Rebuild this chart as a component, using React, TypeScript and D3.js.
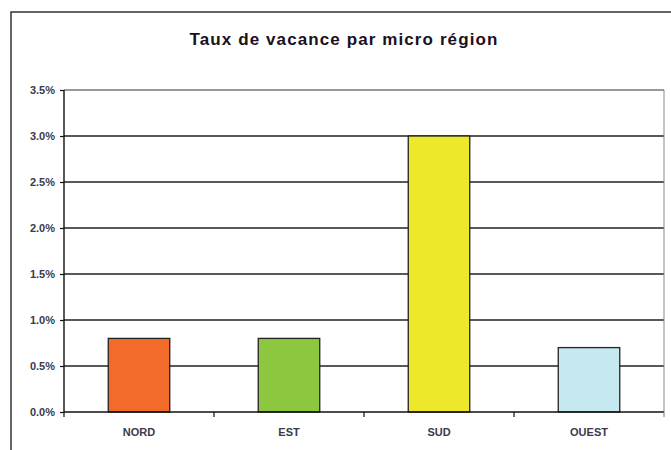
import React, { useEffect, useRef } from 'react';
import * as d3 from 'd3';

const regions = ['NORD', 'EST', 'SUD', 'OUEST'];
const tauxVacance = [0.008, 0.008, 0.03, 0.007];
const barColors = ['#f26b2b', '#8dc63f', '#eee82a', '#c6e8f0'];
const yTicks = [0, 0.005, 0.01, 0.015, 0.02, 0.025, 0.03, 0.035];
const title = 'Taux de vacance par micro région';

export default function App() {
    const svgRef = useRef<SVGSVGElement>(null);
    const width = 671,
        height = 450;
    const margin = { top: 90, right: 7, bottom: 38, left: 64 };

    useEffect(() => {
        const svg = d3.select(svgRef.current);
        svg.selectAll('*').remove();

        // outer chart frame
        svg.append('rect')
            .attr('x', 11)
            .attr('y', 12)
            .attr('width', width + 20)
            .attr('height', height + 20)
            .attr('fill', '#fff')
            .attr('stroke', '#333')
            .attr('stroke-width', 1.5);

        svg.append('text')
            .attr('x', 344)
            .attr('y', 45)
            .attr('text-anchor', 'middle')
            .attr('font-family', 'Liberation Sans, Arial, sans-serif')
            .attr('font-weight', 'bold')
            .attr('font-size', 17)
            .attr('letter-spacing', 1.1)
            .attr('fill', '#1a1020')
            .text(title);

        const g = svg.append('g').attr('transform', `translate(${margin.left}, ${margin.top})`);
        const w = width - margin.left - margin.right;
        const h = height - margin.top - margin.bottom;

        const x = d3.scaleBand().domain(regions).range([0, w]).paddingInner(0.59).paddingOuter(0.295);
        const y = d3.scaleLinear().domain([0, 0.035]).range([h, 0]);

        // gridlines
        g.selectAll('.grid')
            .data(yTicks.slice(1))
            .join('line')
            .attr('x1', 0)
            .attr('x2', w)
            .attr('y1', (d) => y(d))
            .attr('y2', (d) => y(d))
            .attr('stroke', (d) => (d === 0.035 ? '#777' : '#222'))
            .attr('stroke-width', 1.4);

        // right border of plot
        g.append('line')
            .attr('x1', w)
            .attr('x2', w)
            .attr('y1', 0)
            .attr('y2', h)
            .attr('stroke', '#888')
            .attr('stroke-width', 1);

        // bars
        g.selectAll('.bar')
            .data(regions)
            .join('rect')
            .attr('x', (d) => x(d) as number)
            .attr('y', (d, i) => y(tauxVacance[i]))
            .attr('width', x.bandwidth())
            .attr('height', (d, i) => h - y(tauxVacance[i]))
            .attr('fill', (d, i) => barColors[i])
            .attr('stroke', '#222')
            .attr('stroke-width', 1.3);

        // y axis
        const yAxis = g
            .append('g')
            .call(
                d3
                    .axisLeft(y)
                    .tickValues(yTicks)
                    .tickSize(4)
                    .tickPadding(5)
                    .tickFormat((d) => d3.format('.1%')(d as number))
            );
        yAxis.select('.domain').attr('stroke', '#111').attr('stroke-width', 1.4).attr('d', `M0,0V${h}`);
        yAxis.selectAll('.tick line').attr('stroke', '#111').attr('stroke-width', 1.2);
        yAxis.selectAll('text')
            .attr('font-family', 'Liberation Sans, Arial, sans-serif')
            .attr('font-size', 11)
            .attr('font-weight', 'bold')
            .attr('fill', '#3a3a48');

        // x axis
        const xAxis = g.append('g').attr('transform', `translate(0, ${h})`);
        xAxis.append('line').attr('x1', 0).attr('x2', w).attr('stroke', '#111').attr('stroke-width', 1.4);
        const step = w / regions.length;
        xAxis.selectAll('.xt')
            .data(d3.range(regions.length + 1))
            .join('line')
            .attr('x1', (i) => i * step)
            .attr('x2', (i) => i * step)
            .attr('y1', 0)
            .attr('y2', 5)
            .attr('stroke', (i) => (i === regions.length ? '#888' : '#111'))
            .attr('stroke-width', 1.2);
        xAxis.selectAll('.xl')
            .data(regions)
            .join('text')
            .attr('x', (d) => (x(d) as number) + x.bandwidth() / 2)
            .attr('y', 24)
            .attr('text-anchor', 'middle')
            .attr('font-family', 'Liberation Sans, Arial, sans-serif')
            .attr('font-size', 11)
            .attr('font-weight', 'bold')
            .attr('fill', '#3a3a48')
            .text((d) => d);
    }, []);

    return (
        <div style={{ position: 'absolute', left: 0, top: 0 }}>
            <svg ref={svgRef} width={width} height={height} style={{ display: 'block' }} />
        </div>
    );
}
